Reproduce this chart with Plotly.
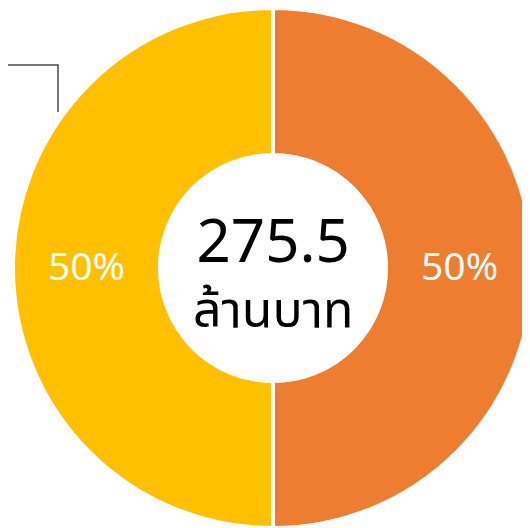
import plotly.graph_objects as go

labels = ["ส่วนที่ 1", "ส่วนที่ 2"]
values = [50, 50]
colors = ["#ED7D31", "#FFC000"]
center_value = "275.5"
center_unit = "ล้านบาท"

# page body adds an 8px offset, figure coordinates below are figure pixels
W, H = 530, 528
ML, MT, MB, MR = 0, 0, 8, 0
PW, PH = W - ML - MR, H - MT - MB

def px(x):
    return (x - ML) / PW

def py(y):
    return 1 - (y - MT) / PH

FONT = "Noto Sans Thai, Noto Sans, Open Sans, sans-serif"

fig = go.Figure(go.Pie(
    labels=labels,
    values=values,
    hole=0.435,
    sort=False,
    direction="clockwise",
    rotation=0,
    marker=dict(colors=colors, line=dict(color="white", width=4)),
    textinfo="percent",
    texttemplate="%{percent:.0%}",
    textposition="inside",
    insidetextorientation="horizontal",
    textfont=dict(color="white", size=39, family=FONT),
    showlegend=False,
    domain=dict(x=[0, 1], y=[0, 1]),
))

fig.add_annotation(x=0.5, y=0.5, xref="paper", yref="paper",
                   text=f"<span style='font-size:60px'>{center_value}</span><br>{center_unit}",
                   showarrow=False, yshift=-6, yanchor="middle", align="center",
                   font=dict(size=50, color="black", family=FONT))

fig.add_shape(type="path",
              path=f"M {px(-10)} {py(57)} L {px(50)} {py(57)} L {px(50)} {py(104)}",
              xref="paper", yref="paper",
              line=dict(color="#4a4a4a", width=1.5))

fig.update_layout(
    width=W, height=H,
    margin=dict(l=ML, r=MR, t=MT, b=MB, pad=0),
    paper_bgcolor="white", plot_bgcolor="white",
)

fig.write_html("out.html")
